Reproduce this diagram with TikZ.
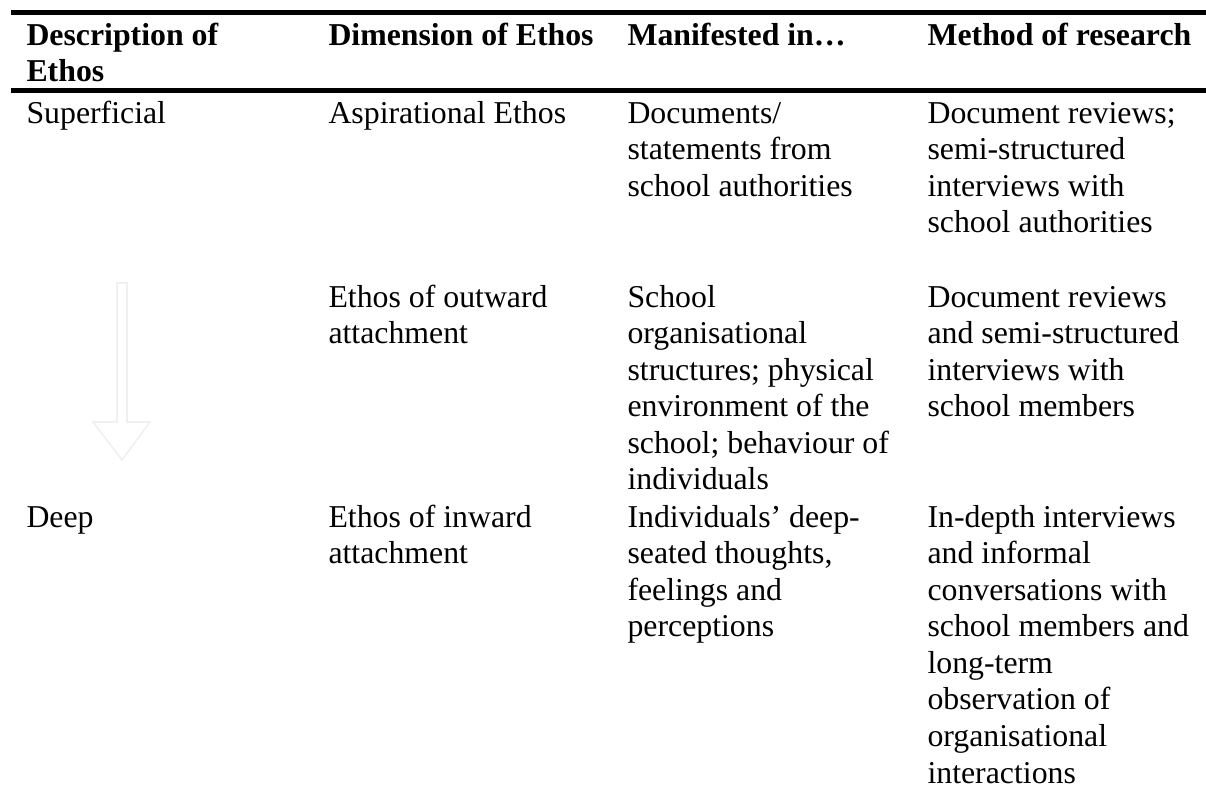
\documentclass[tikz,border=0pt]{standalone}
\usepackage{fontspec}
\setmainfont{Liberation Serif}
\tikzset{
  cell/.style={anchor=base west, inner sep=0pt, text width=112pt, align=flush left,
    font=\fontsize{12}{13.81}\selectfont},
  headcell/.style={cell, font=\fontsize{12}{13.81}\selectfont\bfseries},
  rulestyle/.style={line width=1.9pt, draw=black},
  faintarrow/.style={draw=black!6, line width=0.6pt, fill=white}
}
\begin{document}
\begin{tikzpicture}[x=0.37736pt, y=-0.37736pt]
\useasboundingbox (0,0) rectangle (1206,789);

% horizontal rules of the table
\coordinate (topL) at (11,12.5);
\coordinate (topR) at (1206,12.5);
\coordinate (midL) at (11,90.5);
\coordinate (midR) at (1206,90.5);
\draw[rulestyle] (topL) -- (topR);
\draw[rulestyle] (midL) -- (midR);

% header row
\node[headcell] (h1) at (26,45) {Description of\\Ethos};
\node[headcell] (h2) at (328,45) {Dimension of Ethos};
\node[headcell] (h3) at (627,45) {Manifested in…};
\node[headcell] (h4) at (927,45) {Method of research};

% first row
\node[cell] (c11) at (26,123) {Superficial};
\node[cell] (c12) at (328,123) {Aspirational Ethos};
\node[cell] (c13) at (627,123) {Documents/\\statements from\\school authorities};
\node[cell] (c14) at (927,123) {Document reviews;\\semi-structured\\interviews with\\school authorities};

% second row
\node[cell] (c22) at (328,307) {Ethos of outward\\attachment};
\node[cell] (c23) at (627,307) {School\\organisational\\structures; physical\\environment of the\\school; behaviour of\\individuals};
\node[cell] (c24) at (927,307) {Document reviews\\and semi-structured\\interviews with\\school members};

% third row
\node[cell] (c31) at (26,527) {Deep};
\node[cell] (c32) at (328,527) {Ethos of inward\\attachment};
\node[cell] (c33) at (627,527) {Individuals’ deep-\\seated thoughts,\\feelings and\\perceptions};
\node[cell] (c34) at (927,527) {In-depth interviews\\and informal\\conversations with\\school members and\\long-term\\observation of\\organisational\\interactions};

% pale downward block arrow between the two descriptions
\draw[faintarrow] (117,283) -- (127,283) -- (127,422) -- (150,422)
  -- (122,460) -- (93,422) -- (117,422) -- cycle;
\end{tikzpicture}
\end{document}
